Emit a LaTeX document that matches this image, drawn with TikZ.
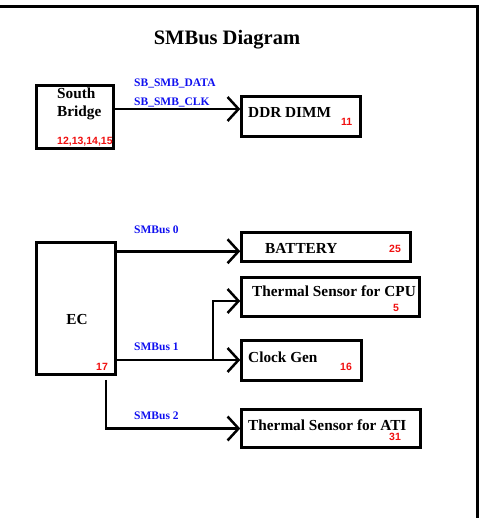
\documentclass[tikz,border=0pt]{standalone}
\usepackage{fontspec}
\setmainfont{Liberation Serif}
\newfontfamily\numfont{Liberation Sans}
\usepackage{tikz}
\usetikzlibrary{positioning, arrows.meta, calc}
\usepackage{xcolor}
\definecolor{smbblue}{HTML}{1010F0}
\definecolor{smbred}{HTML}{F01010}
\definecolor{smbblack}{HTML}{000000}

\begin{document}
\begin{tikzpicture}[x=1pt, y=-1pt,
    box/.style={draw=smbblack, line width=2.5pt, inner sep=0pt},
    boxtext/.style={anchor=west, inner sep=0pt, font=\bfseries\fontsize{15.3}{18}\selectfont},
    busname/.style={anchor=west, inner sep=0pt, text=smbblue, font=\bfseries\fontsize{11.5}{13}\selectfont},
    pinno/.style={anchor=west, inner sep=0pt, text=smbred, font=\numfont\bfseries\fontsize{10.5}{12}\selectfont},
    bus/.style={line width=2.5pt, -{Straight Barb[length=11pt, width=24pt]}}]
  \useasboundingbox (0,0) rectangle (484,518);
  % frame
  \draw[line width=3pt] (0,7) -- (477,7) -- (477,518);
  \node[inner sep=0pt, font=\bfseries\fontsize{20.5}{24}\selectfont] (title) at (227,40) {SMBus Diagram};
  % boxes
  \node[box, minimum width=77pt, minimum height=63pt] (sb) at (75,117) {};
  \node[box, minimum width=119pt, minimum height=40pt] (ddr) at (301,116.5) {};
  \node[box, minimum width=79pt, minimum height=132pt] (ec) at (76,308.5) {};
  \node[box, minimum width=169pt, minimum height=29pt] (bat) at (326,247) {};
  \node[box, minimum width=178pt, minimum height=39pt] (cpu) at (330.5,297) {};
  \node[box, minimum width=120pt, minimum height=40pt] (cg) at (301.5,360.5) {};
  \node[box, minimum width=179pt, minimum height=38pt] (ati) at (331,428.5) {};
  % box texts
  \node[boxtext, align=left] (sbtext) at (57,104) {South\\Bridge};
  \node[boxtext] (ddrtext) at (248,113) {DDR DIMM};
  \node[boxtext, anchor=center] (ectext) at (77,320) {EC};
  \node[boxtext] (battext) at (265,248) {BATTERY};
  \node[boxtext] (cputext) at (252,291) {Thermal Sensor for CPU};
  \node[boxtext] (cgtext) at (248,357) {Clock Gen};
  \node[boxtext] (atitext) at (248,425) {Thermal Sensor for ATI};
  % page numbers
  \node[pinno] (sbno) at (57,142) {12,13,14,15};
  \node[pinno] (ddrno) at (341,122) {11};
  \node[pinno] (batno) at (389,249) {25};
  \node[pinno] (cpuno) at (393,308) {5};
  \node[pinno] (ecno) at (96,367) {17};
  \node[pinno] (cgno) at (340,367) {16};
  \node[pinno] (atino) at (389,437) {31};
  % bus names
  \node[busname] (sbdata) at (134,83) {SB\_SMB\_DATA};
  \node[busname] (sbclk) at (134,102) {SB\_SMB\_CLK};
  \node[busname] (bus0) at (134,230) {SMBus 0};
  \node[busname] (bus1) at (134,347) {SMBus 1};
  \node[busname] (bus2) at (134,416) {SMBus 2};
  % connectors
  \coordinate (split) at (213,360);
  \draw[bus] ([yshift=8pt]sb.east) -- ([yshift=8pt]sb.east -| ddr.west);
  \draw[bus] ([yshift=-10pt]ec.north east) -- ([yshift=-10pt]ec.north east -| bat.west);
  \draw[bus] (split -| ec.east) -- (split -| cg.west);
  \draw[bus] (split) |- ([yshift=-4pt]cpu.west);
  \draw[bus] ([xshift=-11pt, yshift=-4pt]ec.south east) |- (ati.west);
\end{tikzpicture}
\end{document}
